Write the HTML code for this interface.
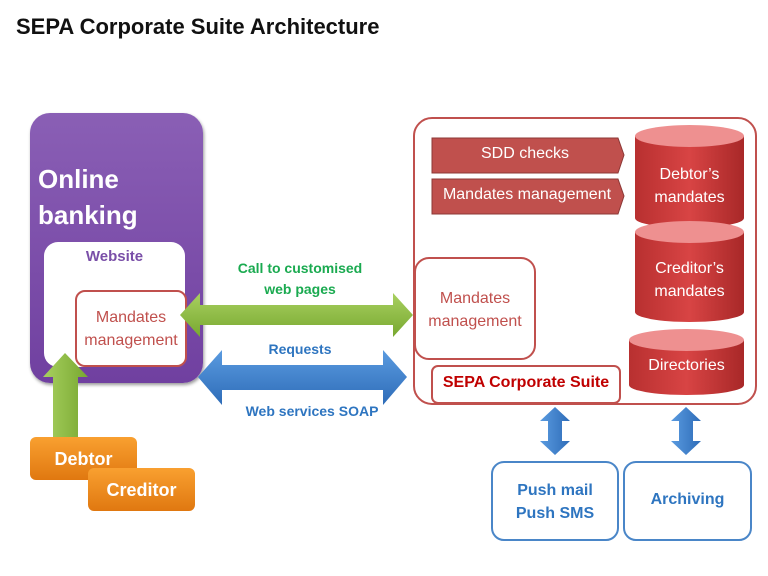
<!DOCTYPE html>
<html><head><style>
body{margin:0;width:768px;height:576px;background:#fff;position:relative;overflow:hidden;font-family:"Liberation Sans",sans-serif}
.a{position:absolute;box-sizing:border-box}
.t{position:absolute;text-align:center;white-space:nowrap}
</style></head><body>
<div class="t" style="left:16px;top:14px;font-size:22px;font-weight:bold;color:#111">SEPA Corporate Suite Architecture</div>

<div class="a" style="left:30px;top:113px;width:173px;height:270px;border-radius:20px;background:linear-gradient(#8a5fb5,#7040a0);box-shadow:1px 2px 3px #999"></div>
<div class="t" style="left:38px;top:161px;font-size:26px;font-weight:bold;color:#fff;text-align:left;line-height:36px">Online<br>banking</div>
<div class="a" style="left:44px;top:242px;width:141px;height:125px;border-radius:14px;background:#fff"></div>
<div class="t" style="left:44px;width:141px;top:248px;font-size:15px;font-weight:bold;color:#7a4fa8">Website</div>
<div class="a" style="left:75px;top:290px;width:112px;height:77px;border-radius:10px;background:#fff;border:2px solid #c0504d"></div>
<div class="t" style="left:75px;width:112px;top:306px;font-size:16px;color:#c0504d;line-height:23px">Mandates<br>management</div>

<svg class="a" style="left:0;top:0" width="768" height="576">
<defs>
<linearGradient id="g" x1="0" y1="0" x2="0" y2="1"><stop offset="0" stop-color="#a8d060"/><stop offset="1" stop-color="#78a830"/></linearGradient>
<linearGradient id="gv" x1="0" y1="0" x2="1" y2="0"><stop offset="0" stop-color="#a8d060"/><stop offset="1" stop-color="#78a830"/></linearGradient>
<linearGradient id="b" x1="0" y1="0" x2="0" y2="1"><stop offset="0" stop-color="#5a9be0"/><stop offset="1" stop-color="#2e6cb8"/></linearGradient>
<linearGradient id="bv" x1="0" y1="0" x2="1" y2="0"><stop offset="0" stop-color="#5a9be0"/><stop offset="1" stop-color="#2e6cb8"/></linearGradient>
<linearGradient id="o" x1="0" y1="0" x2="0" y2="1"><stop offset="0" stop-color="#f9a030"/><stop offset="1" stop-color="#e07810"/></linearGradient>
<linearGradient id="r" x1="0" y1="0" x2="1" y2="0"><stop offset="0" stop-color="#b83030"/><stop offset=".5" stop-color="#d84444"/><stop offset="1" stop-color="#a82828"/></linearGradient>
</defs>
<polygon points="53,440 53,377 43,377 65,353 88,377 78,377 78,440" fill="url(#gv)"/>
<polygon points="180,315 200,293 200,305 393,305 393,293 413,315 393,337 393,325 200,325 200,337" fill="url(#g)"/>
<polygon points="198,377 222,350 222,365 383,365 383,350 407,377 383,405 383,390 222,390 222,405" fill="url(#b)"/>
<polygon points="555,407 570,421 562,421 562,441 570,441 555,455 540,441 548,441 548,421 540,421" fill="url(#bv)"/>
<polygon points="686,407 701,421 693,421 693,441 701,441 686,455 671,441 679,441 679,421 671,421" fill="url(#bv)"/>
<rect x="30" y="437" width="107" height="43" rx="6" fill="url(#o)"/>
<rect x="88" y="468" width="107" height="43" rx="6" fill="url(#o)"/>
<rect x="414" y="118" width="342" height="286" rx="18" fill="none" stroke="#c0504d" stroke-width="2"/>
<polygon points="432,138 618,138 624,155 618,173 432,173" fill="#c0504d" stroke="#8c3836"/>
<polygon points="432,179 618,179 624,196 618,214 432,214" fill="#c0504d" stroke="#8c3836"/>
<path d="M635,136 v82 a54.5,10 0 0 0 109,0 v-82 z" fill="url(#r)"/><ellipse cx="689.5" cy="136" rx="54.5" ry="11" fill="#ee9090"/>
<path d="M635,232 v80 a54.5,10 0 0 0 109,0 v-80 z" fill="url(#r)"/><ellipse cx="689.5" cy="232" rx="54.5" ry="11" fill="#ee9090"/>
<path d="M629,340 v45 a57.5,10 0 0 0 115,0 v-45 z" fill="url(#r)"/><ellipse cx="686.5" cy="340" rx="57.5" ry="11" fill="#ee9090"/>
<rect x="415" y="258" width="120" height="101" rx="14" fill="#fff" stroke="#c0504d" stroke-width="2"/>
<rect x="432" y="366" width="188" height="37" rx="6" fill="#fff" stroke="#c0504d" stroke-width="2"/>
<rect x="492" y="462" width="126" height="78" rx="12" fill="#fff" stroke="#4a86c8" stroke-width="2"/>
<rect x="624" y="462" width="127" height="78" rx="12" fill="#fff" stroke="#4a86c8" stroke-width="2"/>
</svg>

<div class="t" style="left:30px;width:107px;top:449px;font-size:18px;font-weight:bold;color:#fff">Debtor</div>
<div class="t" style="left:88px;width:107px;top:480px;font-size:18px;font-weight:bold;color:#fff">Creditor</div>
<div class="t" style="left:200px;width:200px;top:258px;font-size:14px;font-weight:bold;color:#1aaa50;line-height:21px">Call to customised<br>web pages</div>
<div class="t" style="left:200px;width:200px;top:341px;font-size:14px;font-weight:bold;color:#2e75c0">Requests</div>
<div class="t" style="left:212px;width:200px;top:403px;font-size:14px;font-weight:bold;color:#2e75c0">Web services SOAP</div>
<div class="t" style="left:432px;width:186px;top:145px;font-size:16px;color:#fff">SDD checks</div>
<div class="t" style="left:432px;width:190px;top:186px;font-size:16px;color:#fff">Mandates management</div>
<div class="t" style="left:635px;width:109px;top:163px;font-size:16px;color:#fff;line-height:23px">Debtor’s<br>mandates</div>
<div class="t" style="left:635px;width:109px;top:257px;font-size:16px;color:#fff;line-height:23px">Creditor’s<br>mandates</div>
<div class="t" style="left:629px;width:115px;top:357px;font-size:16px;color:#fff">Directories</div>
<div class="t" style="left:415px;width:120px;top:287px;font-size:16px;color:#c0504d;line-height:23px">Mandates<br>management</div>
<div class="t" style="left:432px;width:188px;top:374px;font-size:16px;font-weight:bold;color:#c00000">SEPA Corporate Suite</div>
<div class="t" style="left:492px;width:126px;top:479px;font-size:16px;font-weight:bold;color:#2e75c0;line-height:23px">Push mail<br>Push SMS</div>
<div class="t" style="left:624px;width:127px;top:491px;font-size:16px;font-weight:bold;color:#2e75c0">Archiving</div>
</body></html>
